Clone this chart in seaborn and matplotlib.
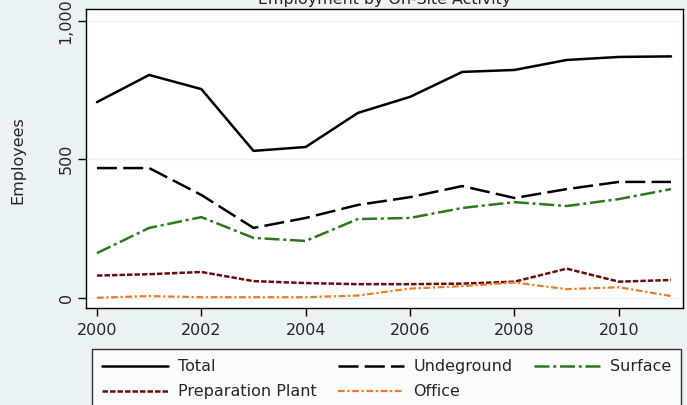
import numpy as np
import matplotlib
matplotlib.use('Agg')
import matplotlib.pyplot as plt
import pandas as pd
import seaborn as sns

years = list(range(2000, 2012))
total = [706, 804, 753, 530, 544, 667, 725, 815, 822, 858, 869, 871]
underground = [468, 468, 371, 252, 288, 335, 363, 403, 360, 392, 418, 418]
surface = [161, 252, 291, 216, 205, 284, 288, 324, 345, 331, 356, 392]
prep_plant = [80, 85, 93, 60, 53, 49, 49, 51, 58, 105, 58, 64]
office = [0, 6, 2, 2, 2, 8, 33, 42, 55, 31, 38, 6]

series_names = ['Total', 'Undeground', 'Surface', 'Preparation Plant', 'Office']
series_vals = [total, underground, surface, prep_plant, office]
colors = ['black', 'black', '#2a7a1a', '#6b0d0d', '#f07a1e']
dashes = [(None, None), (8, 2.5), (6, 1.5, 1.2, 1.5), (2.2, 0.8), (3, 1.2, 1, 1.2)]
widths = [1.8, 1.8, 1.8, 1.8, 1.6]

df = pd.DataFrame({'year': years * 5,
                   'value': sum(series_vals, []),
                   'series': np.repeat(series_names, len(years))})

sns.set_style('white')
plt.rcParams['font.family'] = ['DejaVu Sans']
bg = '#eaf2f3'

fig = plt.figure(figsize=(6.87, 4.05), dpi=100, facecolor=bg)
ax = fig.add_axes([86/687, 1 - 308/405, (683 - 86)/687, (308 - 9)/405])
ax.set_facecolor('white')

for i, name in enumerate(series_names):
    sub = df[df['series'] == name]
    sns.lineplot(x='year', y='value', data=sub, ax=ax, color=colors[i],
                 linewidth=widths[i], label=name, legend=False)
    l = ax.lines[-1]
    if dashes[i][0] is not None:
        l.set_dashes(dashes[i])

ax.set_xlim(1999.79, 2011.23)
ax.set_ylim(-37, 1042)
ax.set_xticks([2000, 2002, 2004, 2006, 2008, 2010])
ax.set_yticks([0, 500, 1000])
ax.set_yticklabels(['0', '500', '1,000'], rotation=90, va='center')
ax.tick_params(axis='both', labelsize=11.5, length=6, width=1, color='black',
               direction='out', bottom=True, left=True, pad=3)
ax.tick_params(axis='x', pad=5)
ax.grid(axis='y', color='#eaf2f3', linewidth=1)
ax.set_axisbelow(True)
for s in ax.spines.values():
    s.set_color('black')
    s.set_linewidth(1)
ax.set_xlabel('')
ax.set_ylabel('Employees', fontsize=11.5)
ax.yaxis.set_label_coords(-0.102, 0.495)

fig.text(384.5/687, 1 - 4/405, 'Employment by On-Site Activity', ha='center',
         va='baseline', fontsize=11.4)

# column-major fill -> reorder so rows read Total, Undeground, Surface / Prep, Office
lines = ax.lines[:5]
order = [0, 3, 1, 4, 2]
leg = fig.legend([lines[k] for k in order], [series_names[k] for k in order],
                 ncol=3, loc='upper left', bbox_to_anchor=(92/687, 1 - 349/405),
                 fontsize=11.5, frameon=True, fancybox=False,
                 handlelength=4.1, handletextpad=0.62, borderpad=0.65,
                 labelspacing=0.62, columnspacing=1.35, borderaxespad=0)
leg.get_frame().set_edgecolor('black')
leg.get_frame().set_linewidth(1)
leg.get_frame().set_facecolor('white')

fig.savefig('out.png', dpi=100, facecolor=bg)
